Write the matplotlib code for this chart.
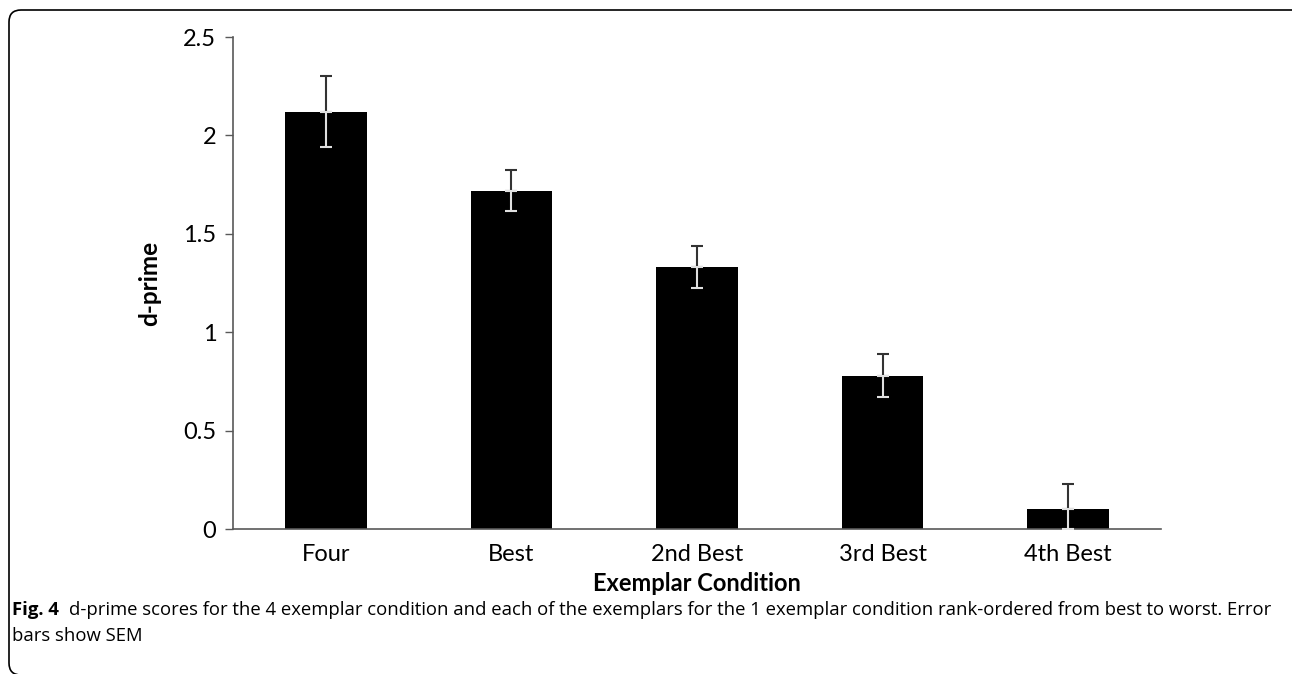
import matplotlib
matplotlib.use('Agg')
from matplotlib import pyplot as plt
from matplotlib.patches import FancyBboxPatch

plt.rcParams['font.family'] = ['Lato', 'DejaVu Sans']

conditions = ['Four', 'Best', '2nd Best', '3rd Best', '4th Best']
dprime = [2.12, 1.72, 1.33, 0.78, 0.10]
sem = [0.18, 0.105, 0.107, 0.11, 0.13]
lower_sem = [0.18, 0.105, 0.107, 0.11, 0.10]

fig = plt.figure(figsize=(12.92, 6.74), dpi=100)
ax = fig.add_axes([0.1803, 0.2151, 0.7183, 0.730])

x = range(len(conditions))
ax.bar(x, dprime, width=0.44, color='black', zorder=2)
# error bar: dark above the bar, light inside it
ax.errorbar(x, dprime, yerr=[[0] * 5, sem], fmt='none', ecolor='#333333',
            elinewidth=1.5, capsize=4, capthick=1.5, zorder=3)
ax.errorbar(x, dprime, yerr=[lower_sem, [0] * 5], fmt='none', ecolor='#e0e0e0',
            elinewidth=1.5, capsize=4, capthick=1.5, zorder=3)

ax.set_xlim(-0.5, 4.5)
ax.set_ylim(0, 2.5)
ax.set_yticks([0, 0.5, 1, 1.5, 2, 2.5])
ax.set_yticklabels(['0', '0.5', '1', '1.5', '2', '2.5'])
ax.set_xticks(list(x))
ax.set_xticklabels(conditions)
ax.tick_params(axis='x', length=0, labelsize=17, pad=11)
ax.tick_params(axis='y', length=6, width=1, color='#595959', labelsize=17, pad=6)

for s in ['top', 'right']:
    ax.spines[s].set_visible(False)
for s in ['left', 'bottom']:
    ax.spines[s].set_color('#595959')
    ax.spines[s].set_linewidth(1.2)

ax.set_ylabel('d-prime', fontsize=17.5, fontweight='bold', labelpad=16)
ax.set_xlabel('Exemplar Condition', fontsize=17, fontweight='bold', labelpad=5)

# rounded frame around the figure (in inches); right side runs off the page
frame = FancyBboxPatch((0.09, -0.01), 13.2, 6.74 - 0.10 + 0.01,
                       boxstyle='round,pad=0,rounding_size=0.12',
                       transform=fig.dpi_scale_trans, fill=False,
                       edgecolor='black', linewidth=1.2)
fig.patches.append(frame)

cap_y = 1 - 610 / 674
t1 = fig.text(12 / 1292, cap_y, 'Fig. 4', fontsize=13.3, va='center',
              family='Open Sans', fontweight='bold')
fig.canvas.draw()
bb = t1.get_window_extent()
fig.text((bb.x1 + 10) / 1292, cap_y,
         'd-prime scores for the 4 exemplar condition and each of the exemplars '
         'for the 1 exemplar condition rank-ordered from best to worst. Error',
         fontsize=13.3, va='center', family='Open Sans')
fig.text(12 / 1292, 1 - 636 / 674, 'bars show SEM', fontsize=13.3, va='center',
         family='Open Sans')

fig.savefig('out.png', dpi=100)
